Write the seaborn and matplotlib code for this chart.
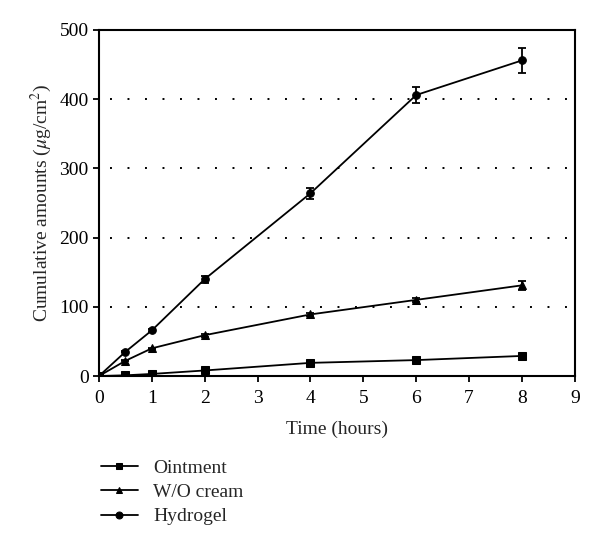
import numpy as np
import pandas as pd
import matplotlib
matplotlib.use("Agg")
import matplotlib.pyplot as plt
import seaborn as sns

# zaman noktalari (saat)
time_h = [0, 0.5, 1, 2, 4, 6, 8]

# kumulatif miktarlar (ug/cm2)
ointment = [0, 1, 3, 8, 19, 23, 29]
ointment_sd = [0, 0.5, 0.5, 1, 2, 2, 2]
wo_cream = [0, 22, 40, 59, 89, 110, 131]
wo_cream_sd = [0, 1, 1, 2, 2, 3, 7]
hydrogel = [0, 35, 66, 140, 264, 406, 456]
hydrogel_sd = [0, 1, 2, 5, 8, 12, 18]

series_names = ["Ointment", "W/O cream", "Hydrogel"]
markers = {"Ointment": "s", "W/O cream": "^", "Hydrogel": "o"}

df = pd.concat([
    pd.DataFrame({"time": time_h, "value": ointment, "sd": ointment_sd, "form": "Ointment"}),
    pd.DataFrame({"time": time_h, "value": wo_cream, "sd": wo_cream_sd, "form": "W/O cream"}),
    pd.DataFrame({"time": time_h, "value": hydrogel, "sd": hydrogel_sd, "form": "Hydrogel"}),
])

sns.set_style("ticks")
plt.rcParams["font.family"] = ["Liberation Serif", "DejaVu Serif"]
plt.rcParams["mathtext.fontset"] = "stix"

fig = plt.figure(figsize=(6, 5.47), dpi=100)
ax = fig.add_axes([0.165, 0.3126, 0.793, 0.6326])

# noktali yatay cizgiler
for yv in [100, 200, 300, 400]:
    ax.plot([0.2, 8.9], [yv, yv], color="black", linestyle=(0, (1, 8)), linewidth=1.4, zorder=0)

for name in series_names:
    sub = df[df["form"] == name]
    sns.lineplot(data=sub, x="time", y="value", marker=markers[name], color="black",
                 markersize=5.5, linewidth=1.3, markeredgecolor="black", ax=ax, label=name,
                 errorbar=None)
    ax.errorbar(sub["time"], sub["value"], yerr=sub["sd"], fmt="none", ecolor="black",
                elinewidth=1.3, capsize=3, capthick=1.3)

ax.set_xlim(0, 9)
ax.set_ylim(0, 500)
ax.set_xticks(range(0, 10))
ax.set_yticks(range(0, 501, 100))
ax.tick_params(axis="both", labelsize=14, direction="out", length=4, width=1.3, colors="black")
ax.tick_params(axis="x", pad=6)
for sp in ax.spines.values():
    sp.set_linewidth(1.5)
    sp.set_color("black")

ax.set_xlabel("Time (hours)", fontsize=14, labelpad=10)
ax.set_ylabel(r"Cumulative amounts ($\mu$g/cm$^2$)", fontsize=14)

leg = ax.legend(loc="upper left", bbox_to_anchor=(0.155, 0.175), bbox_transform=fig.transFigure,
                frameon=False, fontsize=14, handlelength=1.9, handletextpad=0.8,
                labelspacing=0.35, borderaxespad=0)
for h in leg.get_lines():
    h.set_markersize(5)

fig.savefig("out.png", dpi=100)
